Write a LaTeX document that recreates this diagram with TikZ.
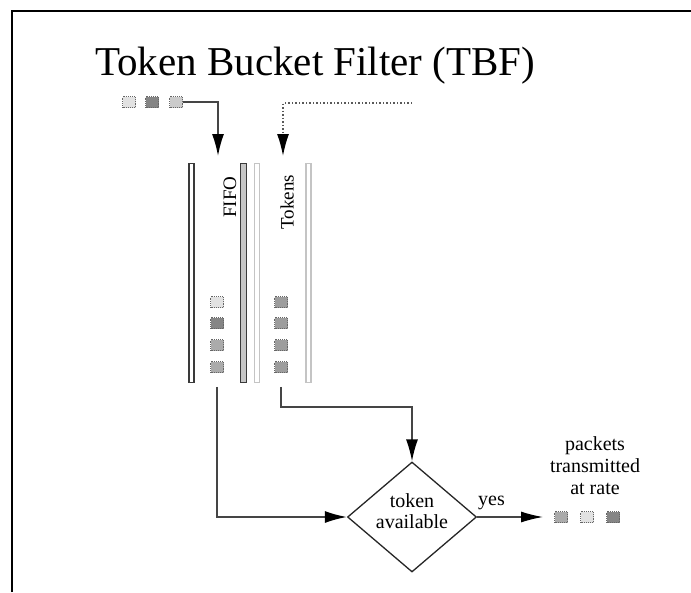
\documentclass[tikz,border=0pt]{standalone}
\usepackage{fontspec}
\setmainfont{Liberation Serif}
\usetikzlibrary{arrows.meta,shapes.geometric}

\definecolor{pktlight}{HTML}{E2E2E2}
\definecolor{pktpale}{HTML}{CBCBCB}
\definecolor{pktmid}{HTML}{ABABAB}
\definecolor{pktdark}{HTML}{858585}
\definecolor{linegray}{HTML}{454545}
\definecolor{tubedark}{HTML}{3A3A3A}
\definecolor{tubelight}{HTML}{C4C4C4}

\tikzset{
  pkt/.style={draw=gray!80!black, densely dotted, line width=0.9pt,
              minimum width=13pt, minimum height=11pt, inner sep=0pt},
  tube/.style={draw=tubedark, line width=1.3pt, fill=white,
               minimum width=5pt, minimum height=219pt, inner sep=0pt},
  tubepale/.style={tube, draw=tubelight},
  flow/.style={draw=linegray, line width=1.6pt,
               -{Latex[length=22pt,width=12pt,black]}},
  thinflow/.style={draw=linegray, line width=1.2pt,
               -{Latex[length=22pt,width=11pt,black]}},
  label/.style={font=\fontsize{20}{21}\selectfont, align=center, inner sep=0pt},
  barlabel/.style={font=\fontsize{19}{21}\selectfont, rotate=90, inner sep=0pt}
}

\begin{document}
\begin{tikzpicture}[x=1pt,y=-1pt]
\useasboundingbox (0,0) rectangle (691,592);

% outer frame (only its top and left sides fall inside the page)
\draw[line width=2.2pt] (12,592) -- (12,11) -- (691,11);

% title
\node[anchor=base west, inner sep=0pt, font=\fontsize{41}{46}\selectfont]
  (title) at (95,75) {Token Bucket Filter (TBF)};

% incoming packets
\node[pkt, fill=pktlight] (in1) at (129,102) {};
\node[pkt, fill=pktdark]  (in2) at (152,102) {};
\node[pkt, fill=pktpale]  (in3) at (176,102) {};
\coordinate (fifoin) at (218,156);
\draw[flow] (in3.east) -| (fifoin);

% token supply
\coordinate (tokensrc) at (412,103);
\coordinate (tokenin) at (283,156);
\draw[draw=gray!70!black, line width=1.5pt, dotted,
      -{Latex[length=22pt,width=12pt,black]}] (tokensrc) -| (tokenin);

% FIFO queue walls
\node[tube] (fifoL) at (191.5,273) {};
\node[tube, fill=gray!45, line width=1.5pt, minimum width=6pt] (fifoR) at (243.5,273) {};
% token bucket walls
\node[tubepale] (tokL) at (257,273) {};
\node[tubepale] (tokR) at (308.5,273) {};

\node[barlabel] (fifolbl) at (230,197) {FIFO};
\node[barlabel] (toklbl) at (287,202) {Tokens};

% queued packets
\node[pkt, fill=pktlight] (f1) at (217,302) {};
\node[pkt, fill=pktdark]  (f2) at (217,323) {};
\node[pkt, fill=pktmid]   (f3) at (217,345) {};
\node[pkt, fill=pktmid]   (f4) at (217,367) {};

% tokens in the bucket
\node[pkt, fill=pktdark!80!white] (t1) at (281,302) {};
\node[pkt, fill=pktdark!80!white] (t2) at (281,323) {};
\node[pkt, fill=pktdark!80!white] (t3) at (281,345) {};
\node[pkt, fill=pktdark!80!white] (t4) at (281,367) {};

% decision
\node[draw=black!85, line width=1.3pt, diamond, minimum width=129pt,
      minimum height=110pt, inner sep=0pt] (dia) at (412,517) {};
\node[label] (dialbl) at (412,511) {token\\available};

\draw[flow, shorten <=14pt] (f4.south) |- (dia.west);
\draw[flow, shorten <=14pt] (t4.south) -- ++(0,34) -| (dia.north);

% output
\coordinate (outend) at (543,517);
\draw[thinflow] (dia.east) -- (outend);
\node[anchor=base, font=\fontsize{20}{21}\selectfont, inner sep=0pt]
  (yes) at (491.5,505) {yes};

\node[pkt, fill=pktmid]   (o1) at (561,517) {};
\node[pkt, fill=pktlight] (o2) at (587,517) {};
\node[pkt, fill=pktdark]  (o3) at (613,517) {};

\node[label, font=\fontsize{20}{22}\selectfont] (outlbl) at (595,466)
  {packets\\transmitted\\at rate};
\end{tikzpicture}
\end{document}
